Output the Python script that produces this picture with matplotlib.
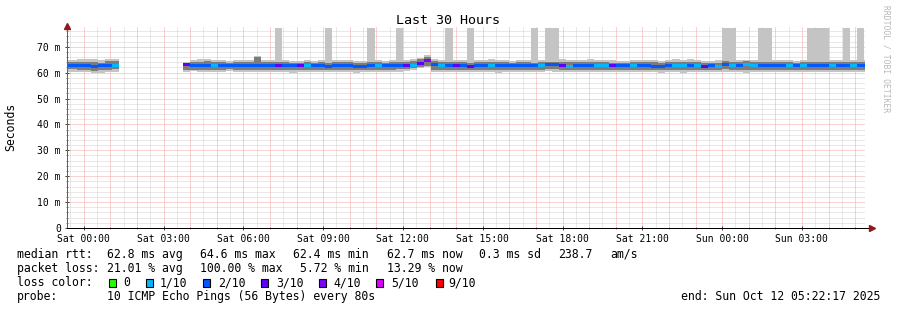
import numpy as np
import matplotlib
matplotlib.use("Agg")
import matplotlib.pyplot as plt
from matplotlib.patches import Rectangle

nan = np.nan

# ---------------- data ----------------
# 16-minute consolidation columns, minutes relative to Sat 00:00
col_start_min = list(range(-48, 1761, 16))   # 114 columns

median = [62.9, 62.9, 62.9, 62.9, 62.4, 62.7, 62.9, 62.8,
          nan, nan, nan, nan, nan, nan, nan, nan, nan,
          63.1, 62.8, 62.8, 62.6, 62.6, 62.8, 62.7, 62.7, 62.8, 62.8, 62.8, 62.8,
          62.8, 62.6, 62.8, 62.8, 62.6, 62.6, 62.8, 62.8, 62.4, 62.6, 62.8, 62.7, 62.4, 62.5,
          62.7, 62.8, 62.8, 62.8, 62.9, 62.8, 62.9, 63.6, 64.6, 63.0, 62.8, 62.7, 62.8, 62.8,
          62.4, 62.7, 62.8, 62.9, 62.8, 62.7, 62.8, 62.8, 62.7, 62.6, 62.8, 63.1, 63.2, 62.8,
          62.5, 62.8, 62.8, 62.7, 62.8, 62.8, 62.6, 62.7, 62.8, 62.9, 62.8, 62.8, 62.5, 62.5,
          62.7, 62.7, 62.6, 62.7, 62.8, 62.4, 62.7, 62.4, 63.2, 62.6, 62.8, 63.2, 62.9, 62.8,
          62.7, 62.8, 62.8, 62.7, 62.7, 62.6, 62.7, 62.8, 62.8, 62.8, 62.7, 62.8, 62.8, 62.7, 62.7]

loss = [2, 2, 2, 2, 2, 2, 2, 1,
        0, 0, 0, 0, 0, 0, 0, 0, 0,
        3, 2, 2, 2, 1, 2, 2, 2, 2, 2, 2, 2,
        2, 3, 2, 2, 3, 1, 2, 2, 2, 2, 2, 2, 2, 2,
        2, 1, 2, 2, 2, 3, 1, 3, 4, 2, 1, 2, 3, 2,
        3, 2, 2, 1, 2, 2, 2, 2, 2, 2, 1, 2, 2, 3,
        1, 2, 2, 2, 1, 1, 3, 2, 2, 1, 2, 2, 2, 2,
        2, 1, 1, 2, 1, 3, 2, 1, 2, 1, 2, 1, 1, 2,
        2, 2, 2, 1, 2, 1, 2, 2, 2, 1, 2, 2, 1, 2, 2]

outer_hi = [64.9, 64.9, 65.2, 65.2, 65.2, 64.8, 65.2, 65.2,
            nan, nan, nan, nan, nan, nan, nan, nan, nan,
            64.2, 64.9, 65.2, 65.1, 64.8, 64.9, 64.6, 64.8, 64.9, 64.8, 66.6, 64.8,
            64.9, 77.4, 64.8, 64.6, 64.6, 64.8, 64.6, 64.8, 77.4, 64.8, 64.9, 64.9, 64.6, 64.6,
            77.4, 64.9, 64.6, 64.8, 77.4, 64.8, 65.2, 65.8, 66.9, 65.2, 64.8, 77.4, 64.8, 64.9,
            77.4, 64.9, 64.8, 65.2, 64.8, 64.8, 64.6, 64.8, 64.9, 77.4, 64.9, 77.4, 77.4, 65.2,
            64.8, 64.9, 64.8, 65.2, 64.8, 64.9, 64.8, 64.6, 64.6, 64.8, 64.9, 64.8, 64.9, 64.6,
            64.8, 65.2, 64.9, 65.2, 64.8, 64.6, 64.6, 64.8, 77.4, 77.4, 64.8, 64.9, 64.9, 77.4,
            77.4, 64.9, 64.8, 64.9, 64.6, 64.8, 77.4, 77.4, 77.4, 64.8, 64.9, 77.4, 64.9, 77.4, 64.9]

outer_lo = [60.4, 60.4, 60.4, 60.4, 60.0, 60.0, 60.4, 60.4,
            nan, nan, nan, nan, nan, nan, nan, nan, nan,
            60.4, 60.7, 60.4, 60.2, 60.4, 60.2, 60.7, 60.4, 60.4, 60.4, 60.4, 60.4,
            60.4, 60.4, 60.4, 60.0, 60.4, 60.2, 60.4, 60.4, 60.2, 60.4, 60.2, 60.4, 60.0, 60.4,
            60.4, 60.4, 60.4, 60.2, 60.4, 60.7, 61.0, 61.7, 62.2, 60.4, 60.4, 60.4, 60.4, 60.4,
            60.4, 60.2, 60.2, 60.4, 60.0, 60.4, 60.4, 60.4, 60.4, 60.2, 60.4, 60.7, 60.4, 60.4,
            60.2, 60.4, 60.4, 60.2, 60.4, 60.4, 60.4, 60.2, 60.4, 60.2, 60.4, 60.4, 60.4, 60.0,
            60.4, 60.4, 60.0, 60.2, 60.4, 60.4, 60.2, 60.4, 60.4, 60.4, 60.4, 60.0, 60.2, 60.4,
            60.4, 60.2, 60.4, 60.4, 60.4, 60.4, 60.4, 60.4, 60.4, 60.4, 60.2, 60.4, 60.4, 60.2, 60.4]

inner_hi = [64.0, 64.0, 64.2, 64.2, 64.0, 63.7, 64.6, 64.4,
            nan, nan, nan, nan, nan, nan, nan, nan, nan,
            63.7, 64.0, 64.2, 64.4, 64.0, 64.0, 63.7, 64.0, 64.0, 64.0, 66.2, 64.0,
            64.0, 64.0, 64.0, 63.7, 63.7, 64.0, 63.7, 64.0, 63.7, 64.0, 64.0, 64.0, 63.7, 63.7,
            64.0, 64.0, 63.7, 64.0, 64.2, 64.2, 64.6, 65.2, 66.2, 64.4, 64.0, 64.0, 64.0, 64.0,
            63.7, 64.0, 64.0, 64.2, 64.0, 64.0, 63.7, 64.0, 64.0, 63.7, 64.0, 64.2, 64.2, 64.2,
            64.0, 64.0, 64.0, 64.2, 64.0, 64.0, 63.7, 63.7, 63.7, 64.0, 64.0, 64.0, 64.0, 63.7,
            64.0, 64.0, 64.0, 64.2, 64.0, 63.7, 63.7, 63.7, 64.4, 64.0, 64.0, 64.4, 64.2, 64.0,
            64.0, 64.0, 64.0, 64.0, 63.7, 64.0, 64.2, 64.2, 64.0, 64.0, 64.0, 64.2, 64.0, 64.0, 64.0]

inner_lo = [61.4, 61.4, 61.2, 61.2, 60.7, 61.0, 61.2, 61.4,
            nan, nan, nan, nan, nan, nan, nan, nan, nan,
            61.2, 61.2, 61.2, 61.0, 61.2, 61.0, 61.4, 61.2, 61.2, 61.2, 61.0, 61.2,
            61.2, 61.2, 61.2, 61.0, 61.0, 61.0, 61.2, 61.2, 61.0, 61.0, 61.2, 61.0, 61.0, 61.2,
            61.2, 61.2, 61.2, 61.2, 61.4, 61.4, 61.7, 62.2, 62.7, 61.2, 61.2, 61.2, 61.2, 61.2,
            61.0, 61.0, 61.0, 61.2, 61.0, 61.2, 61.2, 61.2, 61.2, 61.0, 61.2, 61.4, 61.4, 61.2,
            61.0, 61.2, 61.2, 61.0, 61.2, 61.2, 61.2, 61.0, 61.2, 61.0, 61.2, 61.2, 61.0, 61.0,
            61.2, 61.2, 61.0, 61.0, 61.2, 61.2, 61.0, 61.0, 61.4, 61.2, 61.0, 61.0, 61.0, 61.2,
            61.2, 61.0, 61.2, 61.2, 61.2, 61.2, 61.2, 61.2, 61.2, 61.2, 61.0, 61.2, 61.2, 61.2, 61.2]

loss_labels = ["0", "1/10", "2/10", "3/10", "4/10", "5/10", "9/10"]
loss_colors = ["#26ff00", "#00b8ff", "#0059ff", "#5e00ff", "#7e00ff", "#dd00ff", "#ff0000"]

x_tick_labels = ["Sat 00:00", "Sat 03:00", "Sat 06:00", "Sat 09:00", "Sat 12:00",
                 "Sat 15:00", "Sat 18:00", "Sat 21:00", "Sun 00:00", "Sun 03:00"]
y_tick_values = [0, 10, 20, 30, 40, 50, 60, 70]
y_tick_labels = ["0", "10 m", "20 m", "30 m", "40 m", "50 m", "60 m", "70 m"]

# ---------------- figure ----------------
W, H = 897, 310
MONO = "DejaVu Sans Mono"
plt.rcParams["font.family"] = MONO
fig = plt.figure(figsize=(W / 100, H / 100), dpi=100)
fig.patch.set_facecolor("white")

L, R, T, B = 67, 865, 26, 228
ax = fig.add_axes([L / W, (H - B) / H, (R - L) / W, (B - T) / H])
ax.set_facecolor("white")

x_start = -(37 * 60 + 43) / 3600.0
x_end = x_start + 30.0
ax.set_xlim(x_start, x_end)
ax.set_ylim(0, 78)

# grid (drawn manually so style matches rrdtool)
px = 0.72
for h in np.arange(-0.5, 30, 0.5):
    if h % 1 == 0:
        continue
    ax.axvline(h, color="#d2d2d2", lw=px, ls=(0, (1, 1)), zorder=0.5)
for m in range(2, 78, 2):
    if m % 10 == 0:
        continue
    ax.axhline(m, color="#d2d2d2", lw=px, ls=(0, (1, 1)), zorder=0.5)
for h in range(0, 30):
    ax.axvline(h, color="#f4a4a4", lw=px, ls=(0, (1, 1)), zorder=0.6)
for m in range(10, 78, 10):
    ax.axhline(m, color="#f4a4a4", lw=px, ls=(0, (1, 1)), zorder=0.6)

# smoke + median
xs = np.array(col_start_min) / 60.0
wcol = 16 / 60.0
med = np.array(median, float)
ohi = np.array(outer_hi, float); olo = np.array(outer_lo, float)
ihi = np.array(inner_hi, float); ilo = np.array(inner_lo, float)
ok = ~np.isnan(med)

ax.bar(xs[ok], (ohi - olo)[ok], width=wcol, bottom=olo[ok], align="edge",
       color="#c4c4c4", linewidth=0, zorder=2)
ax.bar(xs[ok], (ihi - ilo)[ok], width=wcol, bottom=ilo[ok], align="edge",
       color="#7c7c7c", linewidth=0, zorder=3)


def loss_idx(v):
    if v <= 4:
        return v
    if v <= 8:
        return 5
    return 6


cols = [loss_colors[loss_idx(v)] for v in loss]
band = 0.58
ax.bar(xs[ok], np.full(ok.sum(), 2 * band), width=wcol, bottom=(med - band)[ok],
       align="edge", color=[c for c, o in zip(cols, ok) if o], linewidth=0, zorder=4)

# axes
for s in ["top", "right"]:
    ax.spines[s].set_visible(False)
ax.spines["left"].set_color("#606060")
ax.spines["bottom"].set_color("#000000")
ax.spines["left"].set_linewidth(px)
ax.spines["bottom"].set_linewidth(px)
ax.spines["left"].set_zorder(5)
ax.spines["bottom"].set_zorder(5)

ax.set_xticks(list(range(0, 30, 3)))
ax.set_xticklabels(x_tick_labels, fontsize=7, family=MONO)
ax.set_xticks(list(range(0, 30)), minor=True)
ax.set_yticks(y_tick_values)
ax.set_yticklabels(y_tick_labels, fontsize=7, family=MONO)
ax.set_yticks(list(range(2, 78, 2)), minor=True)
ax.tick_params(axis="both", which="major", length=3, width=px, direction="inout",
               color="#444444", pad=3)
ax.tick_params(axis="both", which="minor", length=2, width=px, direction="inout",
               color="#888888")
ax.tick_params(axis="x", which="major", pad=2.5)

# arrows
ax.plot([0], [1.0], marker="^", color="#901818", markersize=4.5, clip_on=False,
        transform=ax.transAxes, zorder=6)
ax.plot([x_end + 0.25], [0], marker=">", color="#901818", markersize=4.5,
        clip_on=False, zorder=6)
ax.plot([x_end, x_end + 0.22], [0, 0], color="#000000", lw=px, clip_on=False, zorder=5)


def ftext(x, y, s, **kw):
    kw.setdefault("family", MONO)
    kw.setdefault("fontsize", 8.3)
    kw.setdefault("va", "center")
    kw.setdefault("color", "#000000")
    fig.text(x / W, 1 - y / H, s, **kw)


ftext(448, 20, "Last 30 Hours", fontsize=9.6, ha="center")
ftext(11, 127, "Seconds", rotation=90, ha="center")
ftext(886, 5, "RRDTOOL / TOBI OETIKER", rotation=-90, ha="center", va="top",
      fontsize=5.8, color="#b8b8b8")

# legend rows
y1, y2, y3, y4 = 254.3, 268.3, 282.7, 296.7
ftext(16.7, y1, "median rtt:")
ftext(107.3, y1, "62.8 ms avg")
ftext(200, y1, "64.6 ms max")
ftext(293.3, y1, "62.4 ms min")
ftext(386.7, y1, "62.7 ms now")
ftext(479, y1, "0.3 ms sd")
ftext(558.3, y1, "238.7")
ftext(610, y1, "am/s")

ftext(16.7, y2, "packet loss:")
ftext(107.3, y2, "21.01 % avg")
ftext(200, y2, "100.00 % max")
ftext(300, y2, "5.72 % min")
ftext(386.7, y2, "13.29 % now")

ftext(16.7, y3, "loss color:")
box_x = [109, 146, 203, 261, 319, 376, 436]
txt_x = [123, 160, 218, 276, 333, 391, 448]
for bx, tx, lab, c in zip(box_x, txt_x, loss_labels, loss_colors):
    fig.add_artist(Rectangle((bx / W, 1 - (y3 + 4) / H), 7 / W, 8 / H,
                             transform=fig.transFigure, facecolor=c,
                             edgecolor="#000000", linewidth=0.8))
    ftext(tx, y3, lab)

ftext(16.7, y4, "probe:")
ftext(107.3, y4, "10 ICMP Echo Pings (56 Bytes) every 80s")
ftext(880, y4, "end: Sun Oct 12 05:22:17 2025", ha="right")

fig.savefig("out.png", dpi=100, facecolor="white")
